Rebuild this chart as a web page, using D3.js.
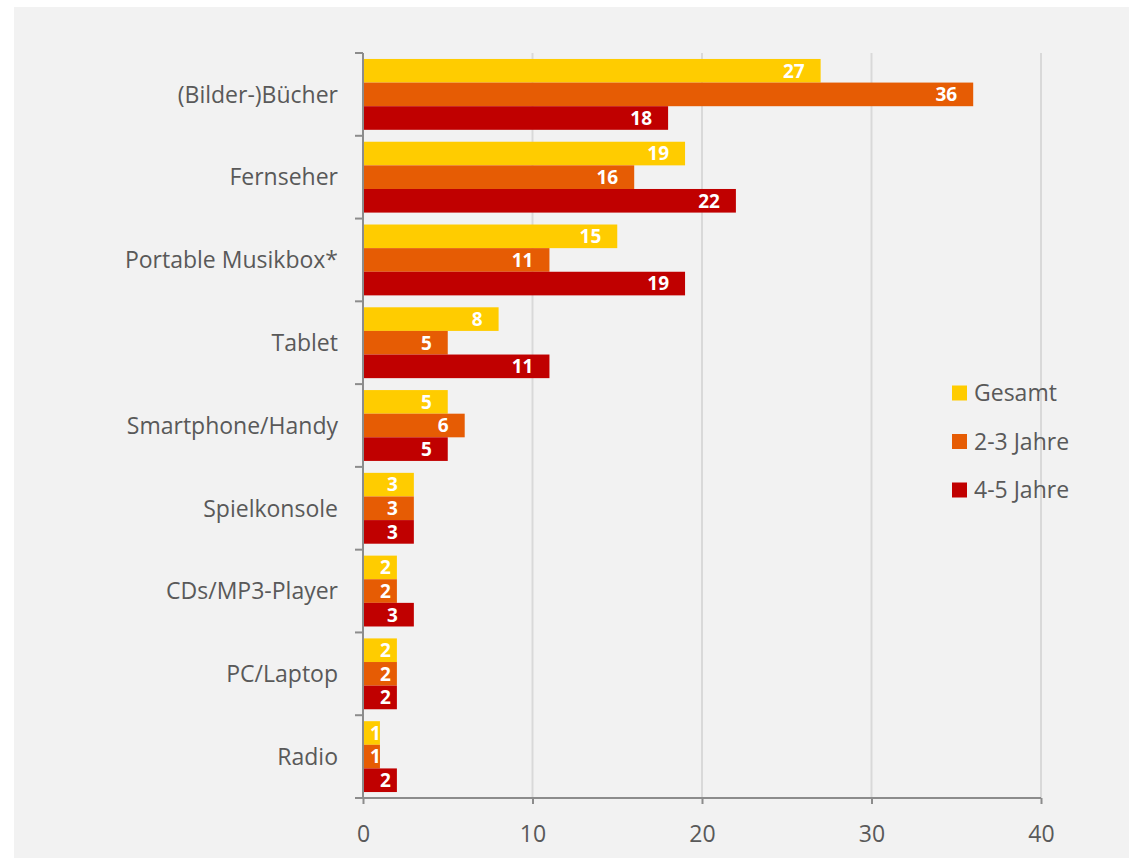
<!DOCTYPE html>
<html>
<head>
<meta charset="utf-8">
<script src="https://cdn.jsdelivr.net/npm/d3@7"></script>
<style>
  body { margin: 0; background: #fff; }
  text { font-family: "Open Sans", sans-serif; }
</style>
</head>
<body>
<svg id="chart" width="1129" height="858"></svg>
<script>
const categories = ['(Bilder-)Bücher', 'Fernseher', 'Portable Musikbox*', 'Tablet', 'Smartphone/Handy',
  'Spielkonsole', 'CDs/MP3-Player', 'PC/Laptop', 'Radio'];
const seriesNames = ['Gesamt', '2-3 Jahre', '4-5 Jahre'];
const gesamt = [27, 19, 15, 8, 5, 3, 2, 2, 1];
const jahre23 = [36, 16, 11, 5, 6, 3, 2, 2, 1];
const jahre45 = [18, 22, 19, 11, 5, 3, 3, 2, 2];
const xTicks = [0, 10, 20, 30, 40];
const colors = ['#ffcc00', '#e65c04', '#c00000'];

const values = [gesamt, jahre23, jahre45];
const rows = categories.map((c, i) => ({
  cat: c,
  vals: seriesNames.map((s, j) => ({ s, v: values[j][i], color: colors[j] }))
}));

const svg = d3.select('#chart');
svg.append('rect').attr('x', 14).attr('y', 7).attr('width', 1115).attr('height', 851).attr('fill', '#f2f2f2');

const x = d3.scaleLinear().domain([0, 40]).range([363, 1041]);
const y = d3.scaleBand().domain(categories).range([53, 798]);
const bw = y.bandwidth();
const y1 = d3.scaleBand().domain(seriesNames).range([bw * 0.072, bw * 0.928]);

// gridlines
svg.append('g').selectAll('line')
  .data(xTicks.slice(1))
  .join('line')
  .attr('x1', d => x(d)).attr('x2', d => x(d))
  .attr('y1', 53).attr('y2', 798)
  .attr('stroke', '#d9d9d9').attr('stroke-width', 2);

// bars
const groups = svg.append('g').selectAll('g')
  .data(rows)
  .join('g')
  .attr('transform', d => `translate(0,${y(d.cat)})`);

groups.selectAll('rect')
  .data(d => d.vals)
  .join('rect')
  .attr('x', x(0))
  .attr('y', d => y1(d.s))
  .attr('width', d => x(d.v) - x(0))
  .attr('height', y1.bandwidth())
  .attr('fill', d => d.color);

groups.selectAll('text.lbl')
  .data(d => d.vals)
  .join('text')
  .attr('class', 'lbl')
  .attr('y', d => y1(d.s) + y1.bandwidth() / 2)
  .attr('dy', '0.36em')
  .attr('fill', '#fff')
  .attr('font-size', 19)
  .attr('font-weight', 'bold')
  .text(d => d.v)
  .each(function (d) {
    const w = x(d.v) - x(0);
    const tw = this.getComputedTextLength();
    let end;
    if (w >= 45) end = x(d.v) - 16;
    else if (w >= 30) end = x(d.v) - 6;
    else end = x(0) + 7 + tw;
    d3.select(this).attr('x', end).attr('text-anchor', 'end');
  });

// y axis
const axisColor = '#8c8c8c';
svg.append('line')
  .attr('x1', x(0)).attr('x2', x(0)).attr('y1', 53).attr('y2', 798)
  .attr('stroke', axisColor).attr('stroke-width', 2);
svg.append('g').selectAll('line')
  .data(categories)
  .join('line')
  .attr('x1', x(0) - 8).attr('x2', x(0))
  .attr('y1', d => y(d)).attr('y2', d => y(d))
  .attr('stroke', axisColor).attr('stroke-width', 2);

svg.append('g').selectAll('text')
  .data(categories)
  .join('text')
  .attr('x', 338)
  .attr('y', d => y(d) + bw / 2)
  .attr('dy', '0.36em')
  .attr('text-anchor', 'end')
  .attr('font-size', 23)
  .attr('fill', '#595959')
  .text(d => d);

// x axis
const xAxis = svg.append('g')
  .attr('transform', 'translate(0,798)')
  .call(d3.axisBottom(x).tickValues(xTicks).tickSize(6).tickSizeOuter(0));
xAxis.select('.domain').remove();
xAxis.append('line').attr('x1', x(0) - 8).attr('x2', x(40))
  .attr('stroke', axisColor).attr('stroke-width', 2);
xAxis.selectAll('.tick line').attr('stroke', axisColor).attr('stroke-width', 2);
xAxis.selectAll('.tick text')
  .attr('y', 44).attr('dy', 0)
  .attr('fill', '#595959')
  .attr('font-size', 23)
  .attr('font-family', '"Open Sans", sans-serif');

// legend
const legend = svg.append('g').selectAll('g')
  .data(seriesNames)
  .join('g')
  .attr('transform', (d, i) => `translate(952,${393 + i * 48.5})`);
legend.append('rect')
  .attr('x', 0).attr('y', -7.5).attr('width', 15).attr('height', 15)
  .attr('fill', (d, i) => colors[i]);
legend.append('text')
  .attr('x', 22).attr('dy', '0.36em')
  .attr('font-size', 23)
  .attr('fill', '#595959')
  .text(d => d);
</script>
</body>
</html>
